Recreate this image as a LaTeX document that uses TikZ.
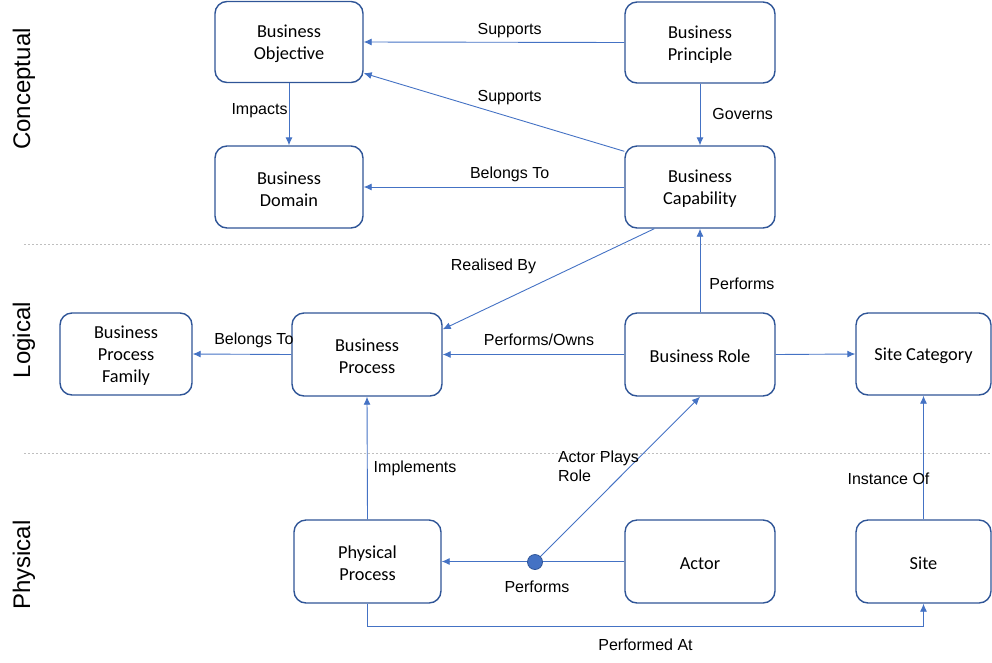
\documentclass[tikz,border=0pt]{standalone}
\usepackage{fontspec}
\setmainfont{Liberation Sans}
\newfontfamily\boxfont{Carlito}
\usetikzlibrary{arrows.meta,calc}
\definecolor{conn}{RGB}{68,114,196}
\definecolor{bord}{RGB}{47,85,151}
\begin{document}
\begin{tikzpicture}[x=1pt,y=-1pt,
  ent/.style={draw=bord,line width=1.4pt,rounded corners=12pt,minimum width=148pt,minimum height=81pt,
    inner sep=0pt,label={[entlbl]center:#1}},
  entlbl/.style={align=center,inner sep=0pt,yshift=-2pt,font=\boxfont\fontsize{18.3}{22}\selectfont},
  arr/.style={draw=conn,line width=0.9pt,-{Latex[length=8pt,width=7pt]}},
  lbl/.style={font=\fontsize{16}{19}\selectfont,inner sep=0pt,text=black,yshift=-2pt},
  layer/.style={font=\fontsize{24}{28}\selectfont,rotate=90,inner sep=0pt},
  sep/.style={draw=black!25,line width=0.8pt,dash pattern=on 2pt off 2pt}]
\useasboundingbox (0,0) rectangle (992,662);
% separators
\draw[sep] (24,244) -- (992,244);
\draw[sep] (24,453) -- (992,453);
% layer labels
\node[layer] (lc) at (24,89) {Conceptual};
\node[layer] (ll) at (24,340) {Logical};
\node[layer] (lp) at (24,565) {Physical};
% entities
\node[ent={Business\\Objective}] (obj) at (289,42) {};
\node[ent={Business\\Principle},minimum width=150pt] (pri) at (700,42.5) {};
\node[ent={Business\\Domain},minimum height=82pt] (dom) at (289,187) {};
\node[ent={Business\\Capability},minimum width=150pt,minimum height=82pt] (cap) at (700,187) {};
\node[ent={Business\\Process\\Family},minimum width=132pt,minimum height=82pt] (fam) at (126,354) {};
\node[ent={Business\\Process},minimum width=150pt,minimum height=83pt] (proc) at (367,354.5) {};
\node[ent={Business Role},minimum width=150pt,minimum height=83pt] (role) at (700,354.5) {};
\node[ent={Site Category},minimum width=135pt,minimum height=82pt] (scat) at (923.5,354) {};
\node[ent={Physical\\Process},minimum width=147pt,minimum height=83pt] (phys) at (367.5,561.5) {};
\node[ent={Actor},minimum width=150pt,minimum height=83pt] (act) at (700,561.5) {};
\node[ent={Site},minimum width=135pt,minimum height=83pt] (site) at (923.5,561.5) {};
% connectors
\draw[arr] (pri.west) -- node[lbl,pos=0.44,yshift=14pt]{Supports} (obj.east);
\draw[arr] ($(cap.north west)+(0,6)$) -- node[lbl,pos=0.44,yshift=21pt]{Supports} ($(obj.south east)+(0,-10)$);
\draw[arr] (obj.south) -- node[lbl,pos=0.41,anchor=east,xshift=-1pt]{Impacts} (dom.north);
\draw[arr] (pri.south) -- node[lbl,pos=0.46,anchor=west,xshift=12pt]{Governs} (cap.north);
\draw[arr] (cap.west) -- node[lbl,pos=0.44,yshift=15pt]{Belongs To} (dom.east);
\draw[arr] ($(cap.south west)+(30,0)$) -- node[lbl,pos=0.76,yshift=41pt]{Realised By} ($(proc.north east)+(0,17)$);
\draw[arr] (role.north) -- node[lbl,pos=0.36,anchor=west,xshift=9pt]{Performs} (cap.south);
\draw[arr] (role.west) -- node[lbl,pos=0.47,yshift=17pt]{Performs/Owns} (proc.east);
\draw[arr] (proc.west) -- node[lbl,pos=0.38,yshift=16pt]{Belongs To} (fam.east);
\draw[arr] (role.east) -- (scat.west);
\draw[arr] (phys.north) -- node[lbl,pos=0.43,anchor=west,xshift=6pt]{Implements} (proc.south);
\coordinate (dotc) at (535,562);
\draw[arr] (act.west) -- node[lbl,pos=0.478,yshift=-23pt]{Performs} (phys.east);
\draw[arr] (dotc) -- node[lbl,pos=0.5,xshift=-19pt,yshift=15pt,align=left]{Actor Plays\\Role} (role.south);
\node[circle,fill=conn,draw=bord,line width=0.8pt,minimum size=15pt,inner sep=0pt] (dot) at (dotc) {};
\draw[arr] (site.north) -- node[lbl,pos=0.34,xshift=-35pt]{Instance Of} (scat.south);
\coordinate (pa) at (367.5,626);
\draw[arr] (phys.south) -- (pa) -- node[lbl,pos=0.5,yshift=-17pt]{Performed At} (pa -| site.south) -- (site.south);
\end{tikzpicture}
\end{document}
